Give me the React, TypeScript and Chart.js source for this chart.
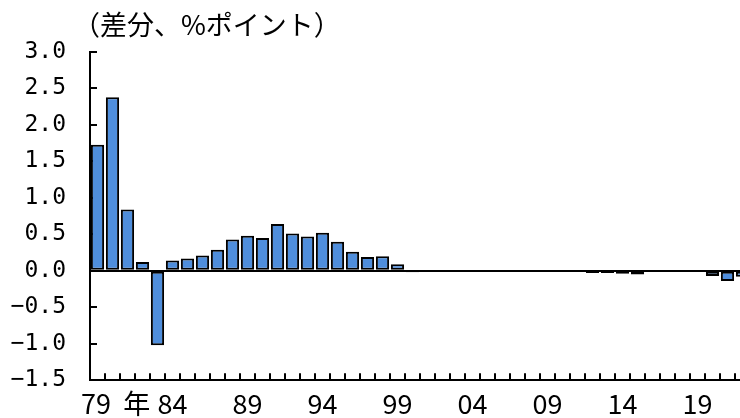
import React, { useEffect, useRef } from 'react';
import { Chart, registerables } from 'chart.js';
Chart.register(...registerables);

const years = [
  1979, 1980, 1981, 1982, 1983, 1984, 1985, 1986, 1987, 1988,
  1989, 1990, 1991, 1992, 1993, 1994, 1995, 1996, 1997, 1998,
  1999, 2000, 2001, 2002, 2003, 2004, 2005, 2006, 2007, 2008,
  2009, 2010, 2011, 2012, 2013, 2014, 2015, 2016, 2017, 2018,
  2019, 2020, 2021, 2022,
];
const diffValues = [
  1.73, 2.38, 0.84, 0.12, -1.02, 0.14, 0.17, 0.21, 0.29, 0.43,
  0.48, 0.45, 0.64, 0.51, 0.47, 0.52, 0.40, 0.26, 0.19, 0.20,
  0.09, -0.02, -0.01, -0.01, -0.01, 0.0, -0.01, -0.01, 0.0, -0.01,
  -0.01, 0.0, -0.01, -0.03, -0.03, -0.04, -0.05, -0.01, 0.0, -0.01,
  -0.01, -0.07, -0.14, -0.08,
];
const xTickLabels = ['      79  年', '84', '89', '94', '99', '04', '09', '14', '19'];
const titleText = '（差分、%ポイント）';

export default function App() {
  const ref = useRef<HTMLCanvasElement>(null);
  useEffect(() => {
    const canvas = ref.current!;
    const decorations = {
      id: 'decorations',
      beforeDatasetsDraw(chart: any) {
        const { ctx, chartArea, scales } = chart;
        const x = scales.x;
        const y = scales.y;
        ctx.save();
        ctx.strokeStyle = '#000';
        ctx.lineWidth = 2;
        ctx.beginPath();
        const step = x.getPixelForValue(1) - x.getPixelForValue(0);
        for (let i = 1; i < years.length; i++) {
          const px = Math.round(x.getPixelForValue(i) - step / 2);
          ctx.moveTo(px, chartArea.bottom);
          ctx.lineTo(px, chartArea.bottom - 7);
        }
        y.ticks.forEach((t: any) => {
          const py = Math.round(y.getPixelForValue(t.value));
          ctx.moveTo(chartArea.left, py);
          ctx.lineTo(chartArea.left + 7, py);
        });
        ctx.stroke();
        ctx.restore();
      },
      afterDraw(chart: any) {
        const { ctx, chartArea } = chart;
        ctx.save();
        ctx.font = '27px "Noto Sans CJK JP"';
        ctx.fillStyle = '#000';
        ctx.textBaseline = 'middle';
        ctx.textAlign = 'left';
        ctx.fillText(titleText, chartArea.left - 17, 25);
        ctx.restore();
      },
    };
    const chart = new Chart(canvas, {
      type: 'bar',
      data: {
        labels: years.map(String),
        datasets: [
          {
            data: diffValues,
            backgroundColor: '#4F8EDC',
            borderColor: '#000',
            borderWidth: 2,
            borderSkipped: false,
            barPercentage: 0.88,
            categoryPercentage: 1,
          },
        ],
      },
      options: {
        animation: false,
        responsive: false,
        devicePixelRatio: 1,
        layout: { padding: { top: 52, left: 0, right: 2, bottom: 0 } },
        plugins: {
          legend: { display: false },
          tooltip: { enabled: false },
          title: { display: false },
        },
        scales: {
          x: {
            offset: true,
            grid: { display: false, drawTicks: false },
            border: { display: true, color: '#000', width: 2 },
            afterFit: (s: any) => { s.height = 36; },
            ticks: {
              autoSkip: false,
              maxRotation: 0,
              padding: 7,
              color: '#000',
              font: { family: '"Liberation Sans Narrow", "Noto Sans CJK JP"', size: 27 },
              callback: (_v: any, i: number) => (i % 5 === 0 ? xTickLabels[i / 5] : ''),
            },
          },
          y: {
            min: -1.5,
            max: 3.0,
            grid: {
              drawTicks: false,
              color: (c: any) => (c.tick && Math.abs(c.tick.value) < 1e-9 ? '#000' : 'rgba(0,0,0,0)'),
              lineWidth: 2,
            },
            border: { display: true, color: '#000', width: 2 },
            afterFit: (s: any) => { s.width = 90; },
            ticks: {
              stepSize: 0.5,
              padding: 24,
              color: '#000',
              font: { family: '"DejaVu Sans Mono"', size: 23 },
              callback: (v: any) => {
                const n = Number(v);
                return (n < 0 ? '\u2212' : '') + Math.abs(n).toFixed(1);
              },
            },
          },
        },
      },
      plugins: [decorations],
    });
    return () => chart.destroy();
  }, []);
  return (
    <div style={{ position: 'absolute', left: 0, top: 0, width: 740, height: 418, overflow: 'hidden', background: '#fff' }}>
      <canvas ref={ref} width={752} height={418} style={{ width: 752, height: 418, display: 'block' }} />
    </div>
  );
}
